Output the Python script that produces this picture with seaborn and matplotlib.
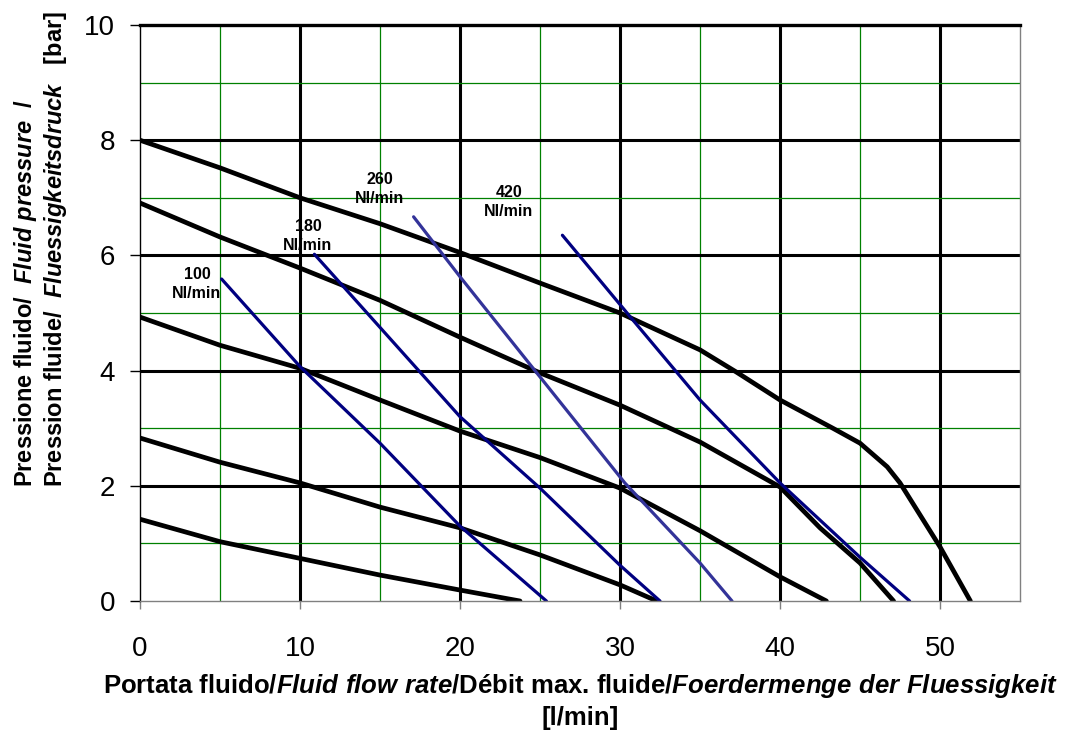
import numpy as np
import pandas as pd
import matplotlib
matplotlib.use("Agg")
import matplotlib.pyplot as plt
import seaborn as sns

# ---- data ----
# pump performance curves (black)
c1_x = [0, 5, 10, 15, 20, 25, 30, 35, 37.3, 40, 43.3, 45, 46.7, 47.5, 50, 51.9]
c1_y = [8.0, 7.52, 7.0, 6.55, 6.05, 5.52, 5.0, 4.36, 3.97, 3.49, 3.0, 2.74, 2.33, 2.05, 0.94, 0.0]
c2_x = [0, 5, 10, 15, 20, 25, 30, 35, 40, 42.5, 45, 47.1]
c2_y = [6.91, 6.32, 5.78, 5.22, 4.58, 3.96, 3.4, 2.76, 1.98, 1.27, 0.66, 0.0]
c3_x = [0, 5, 10, 15, 20, 25, 30, 35, 40, 42.9]
c3_y = [4.93, 4.44, 4.04, 3.49, 2.95, 2.49, 1.96, 1.22, 0.42, 0.0]
c4_x = [0, 5, 10, 15, 20, 25, 30, 32.3]
c4_y = [2.83, 2.41, 2.05, 1.63, 1.27, 0.8, 0.28, 0.0]
c5_x = [0, 5, 10, 15, 20, 23.75]
c5_y = [1.42, 1.03, 0.74, 0.45, 0.19, 0.0]

# air consumption lines (blue)
a100_x = [5.1, 10, 15, 20, 25.4]
a100_y = [5.59, 4.07, 2.74, 1.3, 0.0]
a180_x = [10.9, 15, 20, 25, 30, 32.5]
a180_y = [6.02, 4.75, 3.2, 1.96, 0.62, 0.0]
a260_x = [17.1, 20, 24.8, 30.3, 35, 37.0]
a260_y = [6.67, 5.63, 3.96, 2.05, 0.66, 0.0]
a420_x = [26.4, 30.8, 35, 40, 45, 48.1]
a420_y = [6.35, 4.88, 3.49, 2.05, 0.76, 0.0]

air_labels = ["100\nNl/min", "180\nNl/min", "260\nNl/min", "420\nNl/min"]
label_x = [3.56, 10.5, 15.0, 23.06]
label_y = [5.5, 6.34, 7.15, 6.93]

x_ticks = [0, 10, 20, 30, 40, 50]
y_ticks = [0, 2, 4, 6, 8, 10]

# ---- build long-form tables ----
pump = pd.concat([
    pd.DataFrame({"x": c1_x, "y": c1_y, "curve": "c1"}),
    pd.DataFrame({"x": c2_x, "y": c2_y, "curve": "c2"}),
    pd.DataFrame({"x": c3_x, "y": c3_y, "curve": "c3"}),
    pd.DataFrame({"x": c4_x, "y": c4_y, "curve": "c4"}),
    pd.DataFrame({"x": c5_x, "y": c5_y, "curve": "c5"}),
], ignore_index=True)
air = pd.concat([
    pd.DataFrame({"x": a100_x, "y": a100_y, "curve": "a100"}),
    pd.DataFrame({"x": a180_x, "y": a180_y, "curve": "a180"}),
    pd.DataFrame({"x": a260_x, "y": a260_y, "curve": "a260"}),
    pd.DataFrame({"x": a420_x, "y": a420_y, "curve": "a420"}),
], ignore_index=True)

sns.set_style("white")
plt.rcParams["font.family"] = ["Liberation Sans", "DejaVu Sans"]
plt.rcParams["text.color"] = "black"
plt.rcParams["xtick.color"] = "black"
plt.rcParams["ytick.color"] = "black"
plt.rcParams["mathtext.fontset"] = "custom"
plt.rcParams["mathtext.rm"] = "Liberation Sans:bold"
plt.rcParams["mathtext.bf"] = "Liberation Sans:bold"
plt.rcParams["mathtext.it"] = "Liberation Sans:italic:bold"

fig = plt.figure(figsize=(10.71, 7.46), dpi=100)
ax = fig.add_axes([140 / 1071, 145 / 746, 880 / 1071, 576 / 746])

sns.lineplot(data=pump, x="x", y="y", units="curve", estimator=None, sort=False,
             color="black", linewidth=3.4, ax=ax, legend=False)
sns.lineplot(data=air, x="x", y="y", hue="curve", estimator=None, sort=False,
             palette={"a100": "#000080", "a180": "#000080", "a260": "#333399", "a420": "#000080"},
             linewidth=2.3, ax=ax, legend=False)

for s, lx, ly in zip(air_labels, label_x, label_y):
    ax.text(lx, ly, s, ha="center", va="center", fontsize=11.5, fontweight="bold",
            linespacing=1.35, color="black")

ax.set_xlim(0, 55)
ax.set_ylim(0, 10)
ax.set_xticks(x_ticks)
ax.set_yticks(y_ticks)
ax.set_xticks([5, 15, 25, 35, 45], minor=True)
ax.set_yticks([1, 3, 5, 7, 9], minor=True)
ax.set_xticklabels([str(v) for v in x_ticks], fontsize=20)
ax.set_yticklabels([str(v) for v in y_ticks], fontsize=20)
ax.set_xlabel("")
ax.set_ylabel("")

ax.set_axisbelow(True)
ax.grid(which="major", color="black", linewidth=2.2)
ax.grid(which="minor", color="#008000", linewidth=0.9)
for t in ax.xaxis.get_major_ticks():
    if t.get_loc() == 0:
        t.gridline.set_visible(False)
for t in ax.yaxis.get_major_ticks():
    if t.get_loc() in (0, 10):
        t.gridline.set_visible(False)

ax.tick_params(which="minor", length=0)
ax.tick_params(axis="x", which="major", direction="out", length=6, width=1,
               color="#808080", labelcolor="black", pad=19, bottom=True)
ax.tick_params(axis="y", which="major", direction="out", length=7, width=1,
               color="black", labelcolor="black", pad=11, left=True)

ax.spines["top"].set_color("black")
ax.spines["top"].set_linewidth(2.4)
ax.spines["left"].set_color("black")
ax.spines["left"].set_linewidth(1.0)
ax.spines["right"].set_color("#808080")
ax.spines["right"].set_linewidth(1.0)
ax.spines["bottom"].set_color("#808080")
ax.spines["bottom"].set_linewidth(1.0)

fig.text(580 / 1071, 1 - 672 / 746,
         "Portata fluido/$\\mathit{Fluid\\ flow\\ rate}$/Débit max. fluide/"
         "$\\mathit{Foerdermenge\\ der\\ Fluessigkeit}$\n[l/min]",
         ha="center", va="top", fontsize=18.5, fontweight="bold",
         multialignment="center", linespacing=1.3)

fig.text(41 / 1071, 1 - 487 / 746,
         "Pressione fluido/  $\\mathit{Fluid\\ pressure}$  /\n"
         "Pression fluide/  $\\mathit{Fluessigkeitsdruck}$   [bar]",
         ha="center", va="bottom", rotation=90, fontsize=17, fontweight="bold",
         multialignment="left", linespacing=1.15)

fig.savefig("out.png", dpi=100)
